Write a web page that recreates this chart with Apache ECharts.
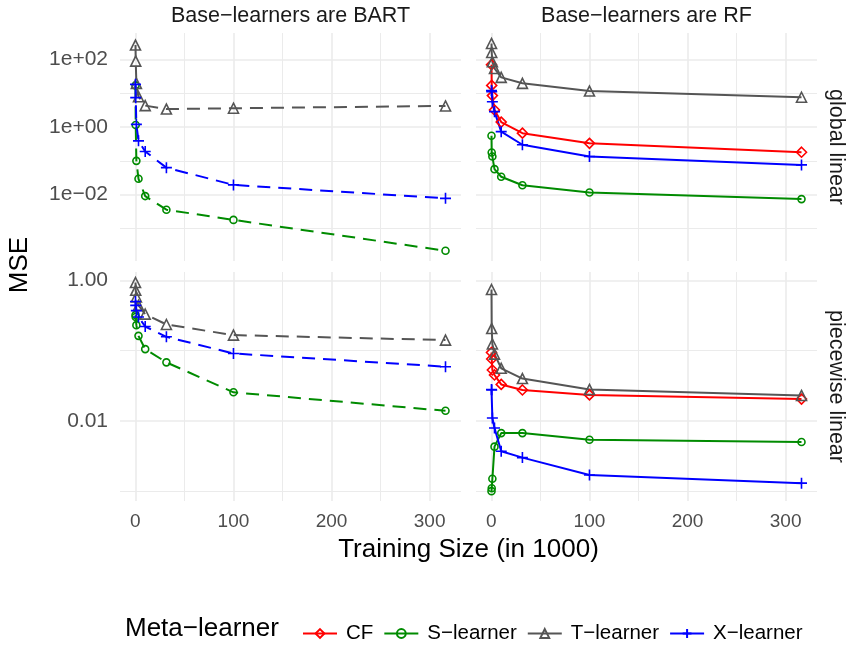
<!DOCTYPE html>
<html>
<head>
<meta charset="utf-8">
<script src="https://cdn.jsdelivr.net/npm/echarts@6/dist/echarts.min.js"></script>
<style>
  html, body { margin: 0; padding: 0; background: #ffffff; }
  #chart { width: 850px; height: 645px; }
</style>
</head>
<body>
<div id="chart"></div>
<script>
// Training sizes (in 1000)
const SIZES = [0.1, 0.3162, 1, 3.162, 10, 31.62, 100, 316.2];

// MSE by meta-learner, base-learner and setting
const BART_GLOBAL_S = [17, 1.15, 0.1, 0.0295, 0.0091, 0.0036, 0.0018, 0.00022];
const BART_GLOBAL_T = [265, 89, 19.6, 7.9, 4.3, 3.4, 3.6, 4.2];
const BART_GLOBAL_X = [18.3, 7.4, 1.2, 0.39, 0.19, 0.063, 0.0195, 0.0078];

const RF_GLOBAL_CF = [70, 17, 8.5, 3.2, 1.4, 0.66, 0.33, 0.18];
const RF_GLOBAL_S = [0.55, 0.176, 0.134, 0.057, 0.034, 0.019, 0.0116, 0.0074];
const RF_GLOBAL_T = [296, 160, 85, 54, 29.4, 19.6, 11.6, 7.6];
const RF_GLOBAL_X = [12, 11, 5.6, 2.85, 0.73, 0.30, 0.134, 0.076];

const BART_PIECE_S = [0.32, 0.30, 0.23, 0.162, 0.105, 0.068, 0.0255, 0.0139];
const BART_PIECE_T = [0.93, 0.72, 0.58, 0.44, 0.33, 0.235, 0.166, 0.141];
const BART_PIECE_X = [0.50, 0.44, 0.37, 0.30, 0.22, 0.157, 0.091, 0.059];

const RF_PIECE_CF = [0.094, 0.076, 0.053, 0.045, 0.033, 0.0275, 0.0234, 0.0204];
const RF_PIECE_S = [0.001, 0.0011, 0.0015, 0.0043, 0.0067, 0.0067, 0.0054, 0.0050];
const RF_PIECE_T = [0.74, 0.206, 0.124, 0.089, 0.056, 0.040, 0.028, 0.023];
const RF_PIECE_X = [0.028, 0.0275, 0.011, 0.0079, 0.0037, 0.0030, 0.0017, 0.0013];

// Tick values and labels
const X_TICKS = [0, 100, 200, 300];
const X_MINOR = [50, 150, 250];
const TOP_TICKS = [1e-2, 1, 1e2];
const TOP_TICK_LABELS = ['1e\u221202', '1e+00', '1e+02'];
const TOP_MINOR = [1e-3, 0.1, 10];
const BOTTOM_TICKS = [0.01, 1];
const BOTTOM_TICK_LABELS = ['0.01', '1.00'];
const BOTTOM_MINOR = [0.001, 0.1];

const LEARNERS = ['CF', 'S\u2212learner', 'T\u2212learner', 'X\u2212learner'];
const COLORS = { 'CF': '#FF0000', 'S\u2212learner': '#008B00', 'T\u2212learner': '#555555', 'X\u2212learner': '#0000FF' };
const SYMBOLS = {
  'CF': ['diamond', 10],
  'S\u2212learner': ['circle', 7],
  'T\u2212learner': ['triangle', 10],
  'X\u2212learner': ['path://M0,5L10,5M5,0L5,10', 11]
};

const FONT = 'Liberation Sans, Arial, Helvetica, sans-serif';
const GRID_COLOR = '#EBEBEB';

// Panel layout: [BART global, RF global, BART piecewise, RF piecewise]
const grids = [
  { left: 120, top: 33, width: 341, height: 228 },
  { left: 476, top: 33, width: 341, height: 228 },
  { left: 120, top: 272, width: 341, height: 229 },
  { left: 476, top: 272, width: 341, height: 229 }
];

const X_MIN = -15.7, X_MAX = 332;
const TOP_RANGE = [Math.pow(10, -3.96), Math.pow(10, 2.78)];
const BOTTOM_RANGE = [Math.pow(10, -3.14), Math.pow(10, 0.118)];

function lookupLabel(ticks, labels) {
  return function (v) {
    for (let i = 0; i < ticks.length; i++) {
      if (Math.abs(Math.log10(v) - Math.log10(ticks[i])) < 0.01) return labels[i];
    }
    return '';
  };
}

const xAxes = [];
const yAxes = [];
// major axes (with labels) 0..3
for (let g = 0; g < 4; g++) {
  const bottom = g >= 2, left = g % 2 === 0;
  xAxes.push({
    gridIndex: g, type: 'value', min: X_MIN, max: X_MAX,
    axisLine: { show: false },
    axisTick: { show: false, customValues: X_TICKS },
    axisLabel: { show: bottom, customValues: X_TICKS, margin: 11, color: '#4D4D4D', fontSize: 19, fontFamily: FONT },
    splitLine: { show: true, lineStyle: { color: GRID_COLOR, width: 1.6 } }
  });
  const ticks = bottom ? BOTTOM_TICKS : TOP_TICKS;
  const labels = bottom ? BOTTOM_TICK_LABELS : TOP_TICK_LABELS;
  const range = bottom ? BOTTOM_RANGE : TOP_RANGE;
  yAxes.push({
    gridIndex: g, type: 'log', logBase: 10, min: range[0], max: range[1],
    axisLine: { show: false },
    axisTick: { show: false, customValues: ticks },
    axisLabel: { show: left, customValues: ticks, formatter: lookupLabel(ticks, labels), margin: 12, color: '#4D4D4D', fontSize: 21, fontFamily: FONT },
    splitLine: { show: true, lineStyle: { color: GRID_COLOR, width: 1.6 } }
  });
}
// minor grid axes 4..7
for (let g = 0; g < 4; g++) {
  const bottom = g >= 2;
  const range = bottom ? BOTTOM_RANGE : TOP_RANGE;
  xAxes.push({
    gridIndex: g, type: 'value', min: X_MIN, max: X_MAX,
    axisLine: { show: false },
    axisTick: { show: false, customValues: X_MINOR },
    axisLabel: { show: false, customValues: X_MINOR },
    splitLine: { show: true, lineStyle: { color: GRID_COLOR, width: 1 } }
  });
  yAxes.push({
    gridIndex: g, type: 'log', logBase: 10, min: range[0], max: range[1],
    axisLine: { show: false },
    axisTick: { show: false, customValues: bottom ? BOTTOM_MINOR : TOP_MINOR },
    axisLabel: { show: false, customValues: bottom ? BOTTOM_MINOR : TOP_MINOR },
    splitLine: { show: true, lineStyle: { color: GRID_COLOR, width: 1 } }
  });
}

function makeSeries(name, grid, values, dashed) {
  const col = COLORS[name];
  const sym = SYMBOLS[name];
  return {
    name: name, type: 'line',
    xAxisIndex: grid, yAxisIndex: grid,
    data: SIZES.map((s, i) => [s, values[i]]),
    symbol: sym[0], symbolSize: sym[1],
    showAllSymbol: true,
    itemStyle: { color: 'rgba(0,0,0,0)', borderColor: col, borderWidth: 1.6 },
    lineStyle: { color: col, width: 2, type: dashed ? [13, 8] : 'solid' },
    emphasis: { disabled: true },
    animation: false
  };
}

const series = [
  makeSeries('S\u2212learner', 0, BART_GLOBAL_S, true),
  makeSeries('T\u2212learner', 0, BART_GLOBAL_T, true),
  makeSeries('X\u2212learner', 0, BART_GLOBAL_X, true),
  makeSeries('CF', 1, RF_GLOBAL_CF, false),
  makeSeries('S\u2212learner', 1, RF_GLOBAL_S, false),
  makeSeries('T\u2212learner', 1, RF_GLOBAL_T, false),
  makeSeries('X\u2212learner', 1, RF_GLOBAL_X, false),
  makeSeries('S\u2212learner', 2, BART_PIECE_S, true),
  makeSeries('T\u2212learner', 2, BART_PIECE_T, true),
  makeSeries('X\u2212learner', 2, BART_PIECE_X, true),
  makeSeries('CF', 3, RF_PIECE_CF, false),
  makeSeries('S\u2212learner', 3, RF_PIECE_S, false),
  makeSeries('T\u2212learner', 3, RF_PIECE_T, false),
  makeSeries('X\u2212learner', 3, RF_PIECE_X, false)
];

function label(text, x, y, size, rot, color, align) {
  return {
    type: 'text', x: x, y: y, rotation: rot || 0, silent: true,
    style: { text: text, fontSize: size, fontFamily: FONT, fill: color || '#000', align: align || 'center', verticalAlign: 'middle' }
  };
}

const option = {
  backgroundColor: '#ffffff',
  animation: false,
  grid: grids,
  xAxis: xAxes,
  yAxis: yAxes,
  series: series,
  legend: {
    data: LEARNERS,
    left: 297, top: 618,
    itemWidth: 34, itemHeight: 11, itemGap: 10,
    textStyle: { fontSize: 20.5, fontFamily: FONT, color: '#000', padding: [0, 0, 0, 4] },
    lineStyle: { type: 'solid', width: 2 },
    selectedMode: false
  },
  graphic: [
    label('Base\u2212learners are BART', 290.5, 16, 21.5, 0, '#1A1A1A'),
    label('Base\u2212learners are RF', 646.5, 16, 21.5, 0, '#1A1A1A'),
    label('global linear', 836, 147, 21.5, -Math.PI / 2, '#1A1A1A'),
    label('piecewise linear', 836, 386.5, 21.5, -Math.PI / 2, '#1A1A1A'),
    label('MSE', 20, 265, 26, Math.PI / 2, '#000'),
    label('Training Size (in 1000)', 468.5, 550, 26, 0, '#000'),
    label('Meta\u2212learner', 125, 629, 26, 0, '#000', 'left')
  ]
};

const chart = echarts.init(document.getElementById('chart'), null, { renderer: 'canvas' });
chart.setOption(option);
</script>
</body>
</html>
